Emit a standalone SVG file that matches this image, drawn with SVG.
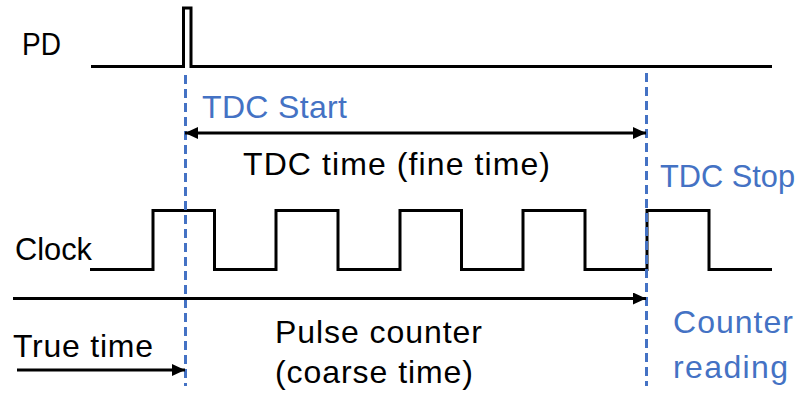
<svg xmlns="http://www.w3.org/2000/svg" width="801" height="398" viewBox="0 0 801 398">
  <style>
    .sig { fill: none; stroke: #000; stroke-width: 3; stroke-linejoin: miter; }
    .dash { fill: none; stroke: #4472C4; stroke-width: 3; stroke-dasharray: 9 5; }
    .arrow { fill: none; stroke: #000; stroke-width: 3; }
    .t { font-family: "Liberation Sans", Arial, sans-serif; font-size: 32px; fill: #000; }
    .b { fill: #4472C4; }
  </style>
  <defs>
    <marker id="ah" markerUnits="userSpaceOnUse" markerWidth="14" markerHeight="12" refX="13" refY="6" orient="auto-start-reverse">
      <path d="M0,0 L13,6 L0,12 Z" fill="#000"/>
    </marker>
  </defs>
  <rect width="801" height="398" fill="#fff"/>

  <g id="pd">
    <path class="sig" d="M91,66.5 H183.5 V8 H191 V66.5 H772"/>
    <text class="t" x="22" y="55" textLength="39" lengthAdjust="spacingAndGlyphs">PD</text>
  </g>

  <g id="clock">
    <path class="sig" d="M90,269.5 H153 V210.5 H214.5 V269.5 H276 V210.5 H338 V269.5 H400 V210.5 H461.5 V269.5 H523 V210.5 H585 V269.5 H647 V210.5 H709 V269.5 H772"/>
    <text class="t" x="15" y="260" textLength="77" lengthAdjust="spacingAndGlyphs">Clock</text>
  </g>

  <g id="tdc-start">
    <line class="dash" x1="185.5" y1="75" x2="185.5" y2="386"/>
    <text class="t b" x="202" y="118" textLength="145">TDC Start</text>
  </g>

  <g id="tdc-stop">
    <line class="dash" x1="646.5" y1="73" x2="646.5" y2="386"/>
    <text class="t b" x="660" y="187" textLength="135" lengthAdjust="spacingAndGlyphs">TDC Stop</text>
  </g>

  <g id="counter-reading">
    <text class="t b" x="673" y="333" textLength="120">Counter</text>
    <text class="t b" x="673" y="378" textLength="115">reading</text>
  </g>

  <g id="tdc-time">
    <text class="t" x="243" y="175" textLength="307">TDC time (fine time)</text>
  </g>

  <g id="pulse-counter">
    <text class="t" x="275" y="343" textLength="207">Pulse counter</text>
    <text class="t" x="275" y="383" textLength="198">(coarse time)</text>
  </g>

  <g id="true-time">
    <text class="t" x="13" y="357" textLength="140">True time</text>
  </g>

  <g id="connectors">
    <line class="arrow" x1="185" y1="133" x2="646" y2="133" marker-start="url(#ah)" marker-end="url(#ah)"/>
    <line class="arrow" x1="13" y1="298.5" x2="646" y2="298.5" marker-end="url(#ah)"/>
    <line class="arrow" x1="17" y1="370" x2="185" y2="370" marker-end="url(#ah)"/>
  </g>
</svg>
